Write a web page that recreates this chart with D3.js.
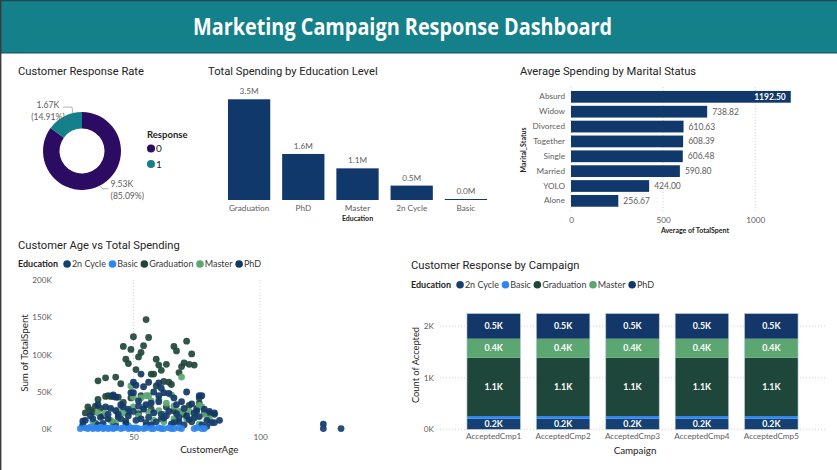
<!DOCTYPE html>
<html><head><meta charset="utf-8">
<script src="https://cdn.jsdelivr.net/npm/d3@7"></script>
<style>
body{margin:0;background:#fff;}
svg{display:block;font-family:Lato,"Open Sans",sans-serif;}
</style></head><body><svg id="c" width="837" height="470"></svg>
<script>
// ---------------- DATA ----------------
const dashboardTitle = "Marketing Campaign Response Dashboard";

const responseLabels = ["0", "1"];
const responseCounts = [9530, 1670];
const responsePct = [85.09, 14.91];

const eduCategories = ["Graduation", "PhD", "Master", "2n Cycle", "Basic"];
const eduSpendingM = [3.5, 1.6, 1.1, 0.5, 0.02];

const maritalCategories = ["Absurd", "Widow", "Divorced", "Together", "Single", "Married", "YOLO", "Alone"];
const maritalAvg = [1192.50, 738.82, 610.63, 608.39, 606.48, 590.80, 424.00, 256.67];
const maritalTicks = [0, 500, 1000];

const educationLevels = ["2n Cycle", "Basic", "Graduation", "Master", "PhD"];
const eduColors = ["#15406f", "#2f86ee", "#1f463b", "#5ca672", "#123768"];

// scatter: [CustomerAge, Sum of TotalSpent in K]
const scatterGraduation = [[55,147],[50,124],[56,123],[46,111],[49,107],[54,112],[53,103],[52,97],[71,118],[66,111],[67,105],[73,101],
 [47,94],[48,88],[59,94],[60,86],[63,87],[70,89],[72,87],[74,86],[51,80],[61,79],[69,84],[68,76],[36,65],[39,69],[43,70],[45,61],
 [57,74],[58,74],[64,63],[65,60],[39,44],[41,44],[42,44],[36,40],[32,30],[35,31],[31,22],[30,6],[76,35],[62,64],[40,45],[49,42],
 [33,26],[37,28],[59,58],[75,28],[78,22],[80,21],[82,20],[57,27],[66,25],[70,20],[38,18],[44,16],[52,21],[61,14],[67,12],[73,10],
 [35,8],[47,11],[55,9],[42,9],[76,42],[44,43],[34,23],[48,24],[63,30],[72,32],[53,45],[46,36]];
const scatterMaster = [[49,58],[69,70],[55,45],[56,45],[50,30],[60,40],[65,46],[66,31],[68,24],[76,32],[77,30],[78,20],[80,14],
 [34,10],[38,4],[41,12],[43,8],[46,22],[52,18],[56,23],[60,25],[62,20],[69,22],[72,24],[74,16],[39,21],[53,42],[57,38],[63,35],
 [48,5],[58,12],[44,26],[66,14],[76,7],[50,43],[71,14],[54,30],[36,22],[62,10]];
const scatterPhD = [[53,74],[56,63],[60,62],[50,63],[50,49],[49,49],[42,46],[43,43],[62,49],[64,48],[71,50],[76,45],[77,45],[52,38],
 [57,35],[60,37],[66,42],[69,37],[73,34],[46,30],[54,27],[58,22],[64,24],[67,21],[71,18],[75,25],[78,27],[80,24],[82,22],[84,12],
 [36,33],[39,30],[43,25],[33,18],[37,16],[44,20],[48,18],[53,14],[62,15],[68,10],[72,13],[79,12],[81,9],[31,12],[30,11],[125,7],
 [41,28],[45,33],[55,33],[47,8],[57,6],[65,7],[76,17],[70,28],[60,45],[54,57],[58,50],[51,59],[61,55],[67,33],[74,22],[40,14]];
const scatter2nCycle = [[34,14],[38,8],[40,20],[45,14],[50,24],[51,12],[56,16],[59,10],[63,18],[66,9],[70,6],[74,15],[77,6],[82,9],
 [125,1],[132,1],[30,4],[48,27],[52,31],[61,20],[36,6],[43,4],[55,5],[68,16],[79,4]];
const scatterBasic = [[29,1],[31,2],[32,1],[33,3],[34,1],[35,2],[36,1],[37,3],[38,1],[39,2],[40,1],[41,2],[42,1],[43,2],[45,1],[46,2],
 [48,1],[49,2],[50,1],[51,2],[52,1],[54,1],[55,2],[57,1],[58,1],[60,2],[61,1],[62,1],[64,2],[65,1],[66,1],[68,2],[69,1],[74,1],[75,2],[77,1],[78,1]];
const scatterXTicks = [50, 100];
const scatterYTicks = [0, 50, 100, 150, 200];

const campaigns = ["AcceptedCmp1", "AcceptedCmp2", "AcceptedCmp3", "AcceptedCmp4", "AcceptedCmp5"];
const count2nCycle = [203, 203, 203, 203, 203];
const countBasic = [54, 54, 54, 54, 54];
const countGraduation = [1127, 1127, 1127, 1127, 1127];
const countMaster = [370, 370, 370, 370, 370];
const countPhD = [486, 486, 486, 486, 486];
const campaignYTicks = [0, 1000, 2000];

// ---------------- DRAW ----------------
const svg = d3.select("#c");
const TITLE_FONT = "Roboto, 'Open Sans', sans-serif";
const LBL = "Lato, 'Open Sans', sans-serif";
const dark = "#252423", gray = "#605e5c";
const AX = 8.2;

svg.append("rect").attr("width", 837).attr("height", 470).attr("fill", "#fff");
// banner
svg.append("rect").attr("x", 0).attr("y", 0).attr("width", 837).attr("height", 53).attr("fill", "#13808a");
svg.append("line").attr("x1", 0).attr("x2", 837).attr("y1", 0.5).attr("y2", 0.5).attr("stroke", "#1d4a55").attr("stroke-width", 1.5);
svg.append("line").attr("x1", 0).attr("x2", 837).attr("y1", 53).attr("y2", 53).attr("stroke", "#1d4a55").attr("stroke-width", 1);
svg.append("line").attr("x1", 0.7).attr("x2", 0.7).attr("y1", 0).attr("y2", 470).attr("stroke", "#3a3a3a").attr("stroke-width", 1.4);
svg.append("text").attr("x", 402.5).attr("y", 34.5).attr("text-anchor", "middle")
  .attr("font-family", "'Open Sans', sans-serif").attr("font-weight", 700).attr("font-size", 22.5)
  .attr("fill", "#fff").attr("textLength", 419).attr("lengthAdjust", "spacingAndGlyphs").text(dashboardTitle);

function panelTitle(x, y, t) {
  svg.append("text").attr("x", x).attr("y", y).attr("font-family", TITLE_FONT).attr("font-size", 11.2)
    .attr("fill", dark).text(t);
}
function styleAxisText(g) {
  g.select(".domain").remove();
  g.selectAll("text").attr("font-size", AX).attr("fill", gray).attr("font-family", LBL);
}

// ---- Donut ----
panelTitle(18, 75, "Customer Response Rate");
const cx = 82, cy = 151, rOut = 39, rIn = 22.5;
const donutColors = ["#2c0c63", "#13808a"];
const pie = d3.pie().sort(null).value(d => d);
const arcs = pie(responseCounts);
const arcGen = d3.arc().innerRadius(rIn).outerRadius(rOut);
const gD = svg.append("g").attr("transform", `translate(${cx},${cy})`);
gD.selectAll("path").data(arcs).join("path").attr("d", arcGen).attr("fill", (d, i) => donutColors[i]);
const fmtK = v => (v / 1000).toFixed(2) + "K";
const leaderFrac = [0.5, 0.75];
arcs.forEach((a, i) => {
  const ang = a.startAngle + (a.endAngle - a.startAngle) * leaderFrac[i];
  const px = Math.sin(ang) * rOut, py = -Math.cos(ang) * rOut;
  let pts, tx, anchor, ty;
  if (i === 1) {
    pts = [[px, py], [px - 1, py - 6], [px - 10, py - 6]];
    tx = px - 25; anchor = "middle"; ty = py - 5.5;
  } else {
    pts = [[px, py], [px + 3, py + 3], [px + 9, py + 3]];
    tx = px + 11; anchor = "start"; ty = py + 1;
  }
  gD.append("polyline").attr("points", pts.map(p => p.join(",")).join(" "))
    .attr("fill", "none").attr("stroke", "#a19f9d").attr("stroke-width", 0.8);
  const t = gD.append("text").attr("x", tx).attr("y", ty).attr("text-anchor", anchor)
    .attr("font-size", 8.6).attr("fill", gray);
  t.append("tspan").attr("x", tx).text(fmtK(responseCounts[i]));
  t.append("tspan").attr("x", tx).attr("dy", 12).text("(" + responsePct[i].toFixed(2) + "%)");
});
svg.append("text").attr("x", 147).attr("y", 138).attr("font-size", 9.5).attr("font-weight", 700).attr("fill", dark).text("Response");
responseLabels.forEach((l, i) => {
  svg.append("circle").attr("cx", 151).attr("cy", 148.5 + i * 15.5).attr("r", 4).attr("fill", donutColors[i]);
  svg.append("text").attr("x", 156).attr("y", 152 + i * 15.5).attr("font-size", 10).attr("fill", dark).text(l);
});

// ---- Education bars ----
panelTitle(208, 75, "Total Spending by Education Level");
const xE = d3.scaleBand().domain(eduCategories).range([222, 493]).paddingInner(0.22).paddingOuter(0.11);
const yE = d3.scaleLinear().domain([0, 3.5]).range([200, 99.3]);
svg.append("g").selectAll("rect").data(eduCategories).join("rect")
  .attr("x", d => xE(d)).attr("width", xE.bandwidth())
  .attr("y", (d, i) => Math.min(yE(eduSpendingM[i]), 199)).attr("height", (d, i) => Math.max(200 - yE(eduSpendingM[i]), 1))
  .attr("fill", "#11386a");
svg.append("g").selectAll("text").data(eduCategories).join("text")
  .attr("x", d => xE(d) + xE.bandwidth() / 2).attr("y", (d, i) => yE(eduSpendingM[i]) - 5)
  .attr("text-anchor", "middle").attr("font-size", AX).attr("fill", gray)
  .text((d, i) => eduSpendingM[i].toFixed(1) + "M");
const axE = svg.append("g").attr("transform", "translate(0,200)")
  .call(d3.axisBottom(xE).tickSize(0).tickPadding(5));
styleAxisText(axE);
svg.append("text").attr("x", 357.5).attr("y", 221).attr("text-anchor", "middle").attr("font-size", 7).attr("font-weight", 700)
  .attr("fill", dark).text("Education");

// ---- Marital bars ----
panelTitle(520, 75, "Average Spending by Marital Status");
const yM = d3.scaleBand().domain(maritalCategories).range([89.4, 208.3]).paddingInner(0.21).paddingOuter(0.105);
const xM = d3.scaleLinear().domain([0, 1000]).range([571, 755.3]);
svg.append("g").selectAll("line").data(maritalTicks).join("line")
  .attr("x1", d => xM(d)).attr("x2", d => xM(d)).attr("y1", 87).attr("y2", 212)
  .attr("stroke", "#c8c6c4").attr("stroke-dasharray", "1,2").attr("stroke-width", 0.8);
svg.append("g").selectAll("rect").data(maritalCategories).join("rect")
  .attr("x", xM(0)).attr("y", d => yM(d)).attr("height", yM.bandwidth())
  .attr("width", (d, i) => xM(maritalAvg[i]) - xM(0)).attr("fill", "#11386a");
svg.append("g").selectAll("text").data(maritalCategories).join("text")
  .attr("x", (d, i) => i === 0 ? xM(maritalAvg[i]) - 5 : xM(maritalAvg[i]) + 5)
  .attr("y", d => yM(d) + yM.bandwidth() / 2 + 3)
  .attr("text-anchor", (d, i) => i === 0 ? "end" : "start")
  .attr("font-size", 8.5).attr("font-weight", (d, i) => i === 0 ? 700 : 400)
  .attr("fill", (d, i) => i === 0 ? "#fff" : gray)
  .text((d, i) => maritalAvg[i].toFixed(2));
const ayM = svg.append("g").attr("transform", "translate(571,0)").call(d3.axisLeft(yM).tickSize(0).tickPadding(6));
styleAxisText(ayM);
const axM = svg.append("g").attr("transform", "translate(0,212)")
  .call(d3.axisBottom(xM).tickValues(maritalTicks).tickSize(0).tickPadding(5).tickFormat(d3.format("d")));
styleAxisText(axM);
svg.append("text").attr("x", 695).attr("y", 233).attr("text-anchor", "middle").attr("font-size", 7).attr("font-weight", 700)
  .attr("fill", dark).text("Average of TotalSpent");
svg.append("text").attr("transform", "translate(525.5,150) rotate(-90)").attr("text-anchor", "middle").attr("font-size", 7)
  .attr("font-weight", 700).attr("fill", dark).text("Marital_Status");

// ---- legends (laid out from measured text widths) ----
function eduLegend(x0, y0) {
  const head = svg.append("text").attr("x", x0).attr("y", y0 + 3.3).attr("font-size", 9).attr("font-weight", 700)
    .attr("fill", dark).text("Education");
  let x = x0 + head.node().getComputedTextLength() + 9;
  educationLevels.forEach((e, i) => {
    svg.append("circle").attr("cx", x).attr("cy", y0).attr("r", 3.8).attr("fill", eduColors[i]);
    const t = svg.append("text").attr("x", x + 4.8).attr("y", y0 + 3.3).attr("font-size", 9).attr("fill", "#3b3a39").text(e);
    x = x + 4.8 + t.node().getComputedTextLength() + 6.5;
  });
}

// ---- Scatter ----
panelTitle(18, 248.5, "Customer Age vs Total Spending");
eduLegend(18, 264);
const xS = d3.scaleLinear().domain([21, 139]).range([60, 358.8]);
const yS = d3.scaleLinear().domain([0, 200]).range([429.3, 280]);
svg.append("g").selectAll("line").data(scatterXTicks).join("line")
  .attr("x1", d => xS(d)).attr("x2", d => xS(d)).attr("y1", 280).attr("y2", 429.3)
  .attr("stroke", "#c8c6c4").attr("stroke-dasharray", "1,2").attr("stroke-width", 0.8);
const ayS = svg.append("g").attr("transform", "translate(52,0)")
  .call(d3.axisLeft(yS).tickValues(scatterYTicks).tickSize(0).tickPadding(0).tickFormat(d => d + "K"));
styleAxisText(ayS);
const axS = svg.append("g").attr("transform", "translate(0,432)")
  .call(d3.axisBottom(xS).tickValues(scatterXTicks).tickSize(0).tickPadding(2));
styleAxisText(axS);
svg.append("text").attr("x", 209.3).attr("y", 452.5).attr("text-anchor", "middle").attr("font-size", 9.8).attr("fill", dark).text("CustomerAge");
svg.append("text").attr("transform", "translate(27.5,353) rotate(-90)").attr("text-anchor", "middle").attr("font-size", 9.8)
  .attr("fill", dark).text("Sum of TotalSpent");
const scatterSeries = [
  [scatterGraduation, eduColors[2]], [scatterMaster, eduColors[3]], [scatterPhD, eduColors[4]],
  [scatter2nCycle, eduColors[0]], [scatterBasic, eduColors[1]]
];
const gS = svg.append("g");
scatterSeries.forEach(([pts, col]) => {
  gS.append("g").selectAll("circle").data(pts).join("circle")
    .attr("cx", d => xS(d[0])).attr("cy", d => yS(d[1])).attr("r", 3.4).attr("fill", col).attr("fill-opacity", 0.92);
});

// ---- Stacked campaign bars ----
panelTitle(411, 269, "Customer Response by Campaign");
eduLegend(411, 284.7);
const xC = d3.scaleBand().domain(campaigns).range([451, 814]).paddingInner(0.23).paddingOuter(0.23);
const yC = d3.scaleLinear().domain([0, 2000]).range([429.3, 326]);
svg.append("g").selectAll("line").data(campaignYTicks).join("line")
  .attr("x1", 440).attr("x2", 827).attr("y1", d => yC(d)).attr("y2", d => yC(d))
  .attr("stroke", "#c8c6c4").attr("stroke-dasharray", "1,2").attr("stroke-width", 0.8);
const campaignRows = campaigns.map((c, i) => ({
  campaign: c, "2n Cycle": count2nCycle[i], "Basic": countBasic[i], "Graduation": countGraduation[i],
  "Master": countMaster[i], "PhD": countPhD[i]
}));
const stack = d3.stack().keys(educationLevels)(campaignRows);
const gC = svg.append("g");
stack.forEach((layer, li) => {
  gC.append("g").selectAll("rect").data(layer).join("rect")
    .attr("x", d => xC(d.data.campaign)).attr("width", xC.bandwidth())
    .attr("y", d => yC(d[1])).attr("height", d => yC(d[0]) - yC(d[1]))
    .attr("fill", eduColors[li]);
  if (educationLevels[li] !== "Basic") {
    gC.append("g").selectAll("text").data(layer).join("text")
      .attr("x", d => xC(d.data.campaign) + xC.bandwidth() / 2)
      .attr("y", d => (yC(d[0]) + yC(d[1])) / 2 + 3.2)
      .attr("text-anchor", "middle").attr("font-size", 8.8).attr("font-weight", 700).attr("fill", "#fff")
      .text(d => ((d[1] - d[0]) / 1000).toFixed(1) + "K");
  }
});
gC.selectAll(".outline").data(campaigns).join("rect").attr("class", "outline")
  .attr("x", d => xC(d)).attr("width", xC.bandwidth())
  .attr("y", (d, i) => yC(stack[stack.length - 1][i][1])).attr("height", (d, i) => yC(0) - yC(stack[stack.length - 1][i][1]))
  .attr("fill", "none").attr("stroke", "#b8c4d4").attr("stroke-width", 0.6);
const ayC = svg.append("g").attr("transform", "translate(434,0)")
  .call(d3.axisLeft(yC).tickValues(campaignYTicks).tickSize(0).tickPadding(0).tickFormat(d => (d / 1000) + "K"));
styleAxisText(ayC);
const axC = svg.append("g").attr("transform", "translate(0,432)")
  .call(d3.axisBottom(xC).tickSize(0).tickPadding(1.5));
styleAxisText(axC);
svg.append("text").attr("x", 635).attr("y", 453.5).attr("text-anchor", "middle").attr("font-size", 9.8).attr("fill", dark).text("Campaign");
svg.append("text").attr("transform", "translate(419,365) rotate(-90)").attr("text-anchor", "middle").attr("font-size", 9.3)
  .attr("fill", dark).text("Count of Accepted");
</script></body></html>
